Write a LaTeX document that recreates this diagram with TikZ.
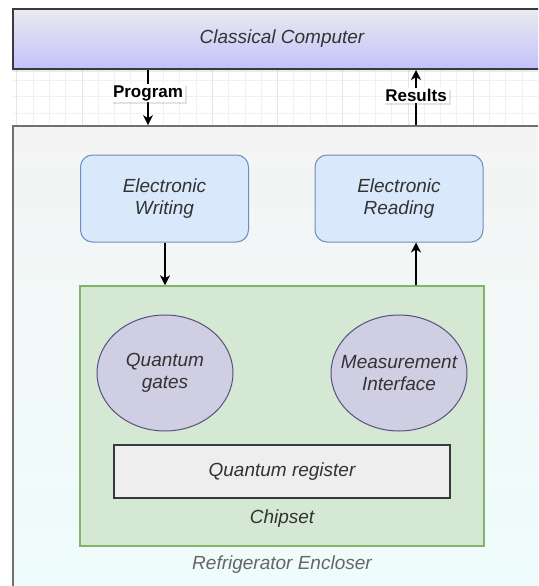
\documentclass[tikz,border=0pt]{standalone}
\usepackage{fontspec}
\setmainfont{Liberation Sans}
\usetikzlibrary{arrows.meta,shadows,shapes.geometric}
\definecolor{ccTop}{HTML}{EAEAEF}
\definecolor{ccBot}{HTML}{C2C2FA}
\definecolor{ccLine}{HTML}{3A3A3A}
\definecolor{frTop}{HTML}{F4F4F4}
\definecolor{frBot}{HTML}{EEFDFC}
\definecolor{frLine}{HTML}{707070}
\definecolor{blueFill}{HTML}{DAE8FC}
\definecolor{blueLine}{HTML}{6C8EBF}
\definecolor{greenFill}{HTML}{D5E8D4}
\definecolor{greenLine}{HTML}{82B366}
\definecolor{purpFill}{HTML}{D0CEE2}
\definecolor{purpLine}{HTML}{56517E}
\definecolor{regFill}{HTML}{EEEEEE}
\definecolor{regLine}{HTML}{36393D}
\definecolor{txtDark}{HTML}{333333}
\definecolor{txtGray}{HTML}{666666}
\definecolor{gridMinor}{HTML}{F1F1F1}
\definecolor{gridMajor}{HTML}{E6E6E6}
\tikzset{
  itfont/.style={font=\itshape\fontsize{19}{22}\selectfont, text=txtDark, align=center},
  ccbox/.style={itfont, shade, top color=ccTop, bottom color=ccBot, draw=ccLine, line width=2pt,
    minimum width=538pt, minimum height=60pt, inner sep=0pt,
    drop shadow={opacity=0.15, shadow xshift=0pt, shadow yshift=-3pt}},
  frbox/.style={shade, top color=frTop, bottom color=frBot, draw=frLine, line width=1.8pt,
    minimum width=538pt, minimum height=480pt, inner sep=0pt},
  elbox/.style={itfont, rectangle, rounded corners=12pt, fill=blueFill, draw=blueLine, line width=1pt,
    minimum width=168pt, minimum height=87pt, inner sep=0pt},
  chipbox/.style={rectangle, fill=greenFill, draw=greenLine, line width=1.5pt,
    minimum width=404pt, minimum height=260pt, inner sep=0pt},
  qcirc/.style={ellipse, fill=purpFill, draw=purpLine, line width=1pt,
    minimum width=136pt, minimum height=116pt, inner sep=0pt},
  regbox/.style={itfont, rectangle, fill=regFill, draw=regLine, line width=1.2pt,
    minimum width=336pt, minimum height=53pt, inner sep=0pt},
  plain/.style={itfont},
  graytext/.style={itfont, text=txtGray},
  conn/.style={line width=1.4pt, draw=black, -{Stealth[length=10pt,width=10pt,inset=3pt]}},
  lbl/.style={fill=white, text=black, font=\bfseries\fontsize{17}{20}\selectfont,
    inner xsep=2.5pt, inner ysep=1pt,
    drop shadow={opacity=0.22, shadow xshift=2pt, shadow yshift=-2pt}},
}
\begin{document}
\begin{tikzpicture}[x=1pt,y=-1pt]
\useasboundingbox (0,0) rectangle (538,586);
\clip (0,0) rectangle (538,586);
\fill[white] (0,0) rectangle (538,586);
% grid strip
\begin{scope}
\clip (13,69) rectangle (538,126);
\foreach \i in {0,...,32} {
  \pgfmathsetmacro\gx{16.8+16.3*\i}
  \draw[gridMinor, line width=1pt] (\gx,60) -- (\gx,130);
}
\foreach \gy in {80.5,96.8,113.1} {
  \draw[gridMinor, line width=1pt] (10,\gy) -- (540,\gy);
}
\foreach \i in {0,...,8} {
  \pgfmathsetmacro\gx{16.8+65.2*\i}
  \draw[gridMajor, line width=1pt] (\gx,60) -- (\gx,130);
}
\end{scope}
% enclosure and computer
\node[frbox] (fr) at (282,366) {};
\node[ccbox] (cc) at (282,39) {Classical Computer};
% boxes
\node[elbox] (ew) at (164.5,198.5) {Electronic\\Writing};
\node[elbox] (er) at (399,198.5) {Electronic\\Reading};
\node[chipbox] (chip) at (282,416) {};
\node[qcirc] (qg) at (165,373) {};
\node[plain] (qgtext) at (qg.center) {Quantum\\gates};
\node[qcirc] (mi) at (399,373) {};
\node[plain] (mitext) at (mi.center) {Measurement\\Interface};
\node[regbox] (reg) at (282,471.5) {Quantum register};
\node[plain] (chiplbl) at (282,519) {Chipset};
\node[graytext] (frlbl) at (282,565) {Refrigerator Encloser};
% connector columns
\coordinate (pcol) at (148,0);
\coordinate (rcol) at (416,0);
\coordinate (wcol) at (165,0);
\draw[conn] (cc.south -| pcol) -- node[lbl, pos=0.42] {Program} (fr.north -| pcol);
\draw[conn] (fr.north -| rcol) -- node[lbl, pos=0.54] {Results} (cc.south -| rcol);
\draw[conn] (ew.south -| wcol) -- (chip.north -| wcol);
\draw[conn] (chip.north -| rcol) -- (er.south -| rcol);
\end{tikzpicture}
\end{document}
